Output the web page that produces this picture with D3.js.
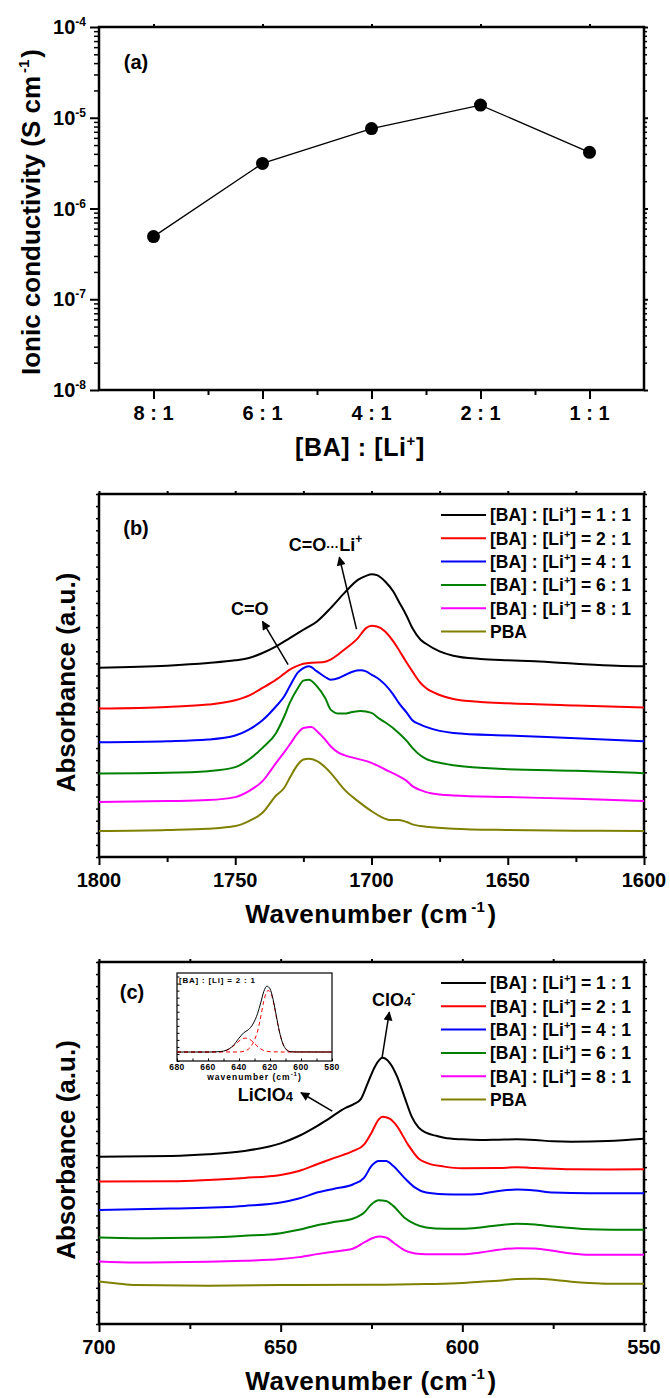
<!DOCTYPE html>
<html>
<head>
<meta charset="utf-8">
<script src="https://cdn.jsdelivr.net/npm/d3@7"></script>
<style>
  body { margin: 0; background: #fff; }
  svg { display: block; font-family: "Liberation Sans", Arial, sans-serif; font-weight: bold; }
</style>
</head>
<body>
<svg id="chart" width="670" height="1398"></svg>
<script>
// ---- data ----

// (a) ionic conductivity vs composition
const ratios = ['8 : 1', '6 : 1', '4 : 1', '2 : 1', '1 : 1'];
const conductivity = [4.9e-7, 3.14e-6, 7.6e-6, 1.38e-5, 4.16e-6];
const decades = [1e-8, 1e-7, 1e-6, 1e-5, 1e-4];
const decadeExp = ['-8', '-7', '-6', '-5', '-4'];

// legend entries, shared by (b) and (c)
const seriesNames = ['1 : 1', '2 : 1', '4 : 1', '6 : 1', '8 : 1', 'PBA'];
const seriesColors = ['#000000', '#ff0000', '#0000ff', '#008000', '#ff00ff', '#808000'];

// wavenumber ticks
const coTicks = [1800, 1750, 1700, 1650, 1600];
const coMinor = [1775, 1725, 1675, 1625];
const clTicks = [700, 650, 600, 550];
const clMinor = [675, 625, 575];

// (b) C=O region, [wavenumber, absorbance a.u.]
const coBA1 = [[1800,.606],[1775,.612],[1760,.620],[1750,.628],[1745,.635],[1740,.650],[1735,.670],[1730,.695],[1725,.720],[1720,.745],[1715,.785],[1710,.830],[1705,.870],[1702,.882],[1700,.887],[1698,.884],[1695,.865],[1692,.835],[1690,.805],[1687,.760],[1685,.725],[1682,.690],[1680,.678],[1675,.655],[1670,.642],[1660,.632],[1650,.628],[1640,.625],[1625,.618],[1610,.612],[1600,.610]];
const coBA2 = [[1800,.483],[1775,.488],[1760,.495],[1750,.508],[1745,.522],[1740,.545],[1735,.570],[1732,.588],[1730,.600],[1727,.612],[1725,.618],[1722,.621],[1718,.622],[1715,.630],[1712,.647],[1710,.660],[1705,.695],[1702,.725],[1700,.732],[1698,.730],[1695,.715],[1692,.685],[1690,.660],[1687,.620],[1685,.595],[1682,.560],[1680,.545],[1675,.524],[1670,.512],[1660,.503],[1650,.499],[1625,.492],[1600,.486]];
const coBA4 = [[1800,.382],[1775,.385],[1760,.390],[1750,.402],[1745,.420],[1740,.448],[1735,.490],[1732,.520],[1730,.550],[1727,.592],[1725,.605],[1723,.610],[1720,.595],[1717,.578],[1715,.570],[1712,.575],[1710,.583],[1707,.594],[1704,.598],[1702,.595],[1700,.585],[1697,.570],[1695,.555],[1692,.525],[1690,.500],[1687,.470],[1685,.448],[1682,.435],[1680,.428],[1675,.416],[1670,.410],[1650,.402],[1625,.394],[1600,.385]];
const coBA6 = [[1800,.288],[1775,.290],[1760,.295],[1750,.307],[1745,.330],[1740,.365],[1735,.410],[1732,.460],[1730,.500],[1727,.545],[1725,.567],[1723,.570],[1720,.550],[1717,.515],[1715,.480],[1712,.468],[1710,.468],[1707,.473],[1704,.476],[1700,.470],[1697,.452],[1695,.442],[1690,.410],[1687,.385],[1685,.365],[1682,.342],[1680,.332],[1675,.320],[1670,.313],[1650,.301],[1625,.296],[1600,.289]];
const coBA8 = [[1800,.202],[1775,.205],[1760,.208],[1750,.217],[1745,.235],[1740,.265],[1735,.320],[1732,.352],[1730,.375],[1727,.410],[1725,.425],[1722,.428],[1720,.415],[1717,.390],[1715,.370],[1712,.350],[1710,.343],[1705,.332],[1700,.320],[1695,.300],[1690,.280],[1687,.265],[1685,.250],[1682,.238],[1680,.232],[1675,.225],[1670,.222],[1650,.217],[1625,.212],[1600,.205]];
const coPBA = [[1800,.115],[1775,.118],[1760,.122],[1750,.130],[1745,.145],[1740,.170],[1735,.222],[1732,.245],[1730,.275],[1727,.315],[1725,.330],[1723,.332],[1720,.325],[1717,.307],[1715,.290],[1712,.260],[1710,.240],[1705,.205],[1700,.175],[1697,.160],[1693,.148],[1690,.148],[1687,.142],[1685,.135],[1682,.130],[1680,.128],[1670,.122],[1650,.118],[1625,.116],[1600,.115]];

// (c) ClO4- region, [wavenumber, absorbance a.u.]
const clBA1 = [[700,.518],[680,.520],[670,.525],[660,.535],[650,.558],[645,.580],[640,.610],[637,.630],[635,.645],[632,.665],[630,.675],[628,.690],[626,.740],[624,.790],[622,.815],[620,.800],[618,.760],[616,.700],[614,.640],[612,.605],[610,.590],[607,.580],[605,.575],[600,.570],[595,.568],[590,.569],[585,.570],[580,.568],[575,.564],[570,.563],[560,.565],[550,.572]];
const clBA2 = [[700,.443],[680,.444],[670,.448],[660,.454],[650,.463],[645,.475],[640,.495],[635,.515],[630,.535],[627,.555],[625,.590],[623,.630],[622,.638],[620,.632],[618,.610],[615,.555],[612,.512],[610,.500],[605,.488],[600,.483],[590,.484],[585,.486],[580,.484],[570,.480],[560,.479],[550,.480]];
const clBA4 = [[700,.358],[680,.362],[660,.370],[650,.380],[645,.392],[640,.410],[635,.422],[630,.435],[627,.455],[625,.490],[623,.505],[621,.505],[619,.490],[616,.455],[613,.425],[610,.410],[605,.405],[600,.404],[595,.406],[590,.415],[585,.419],[580,.416],[575,.410],[565,.408],[550,.408]];
const clBA6 = [[700,.275],[690,.273],[670,.275],[660,.280],[650,.288],[645,.298],[640,.312],[635,.322],[630,.332],[627,.350],[625,.375],[623,.387],[621,.385],[619,.370],[616,.335],[613,.315],[610,.305],[605,.301],[600,.301],[595,.305],[590,.312],[585,.316],[580,.314],[575,.308],[565,.300],[550,.298]];
const clBA8 = [[700,.203],[690,.200],[670,.202],[660,.205],[650,.210],[645,.216],[640,.225],[635,.233],[630,.242],[627,.260],[625,.272],[623,.278],[621,.275],[619,.260],[616,.237],[613,.227],[610,.225],[600,.225],[595,.230],[590,.238],[585,.243],[580,.242],[575,.235],[570,.227],[565,.223],[550,.223]];
const clPBA = [[700,.143],[695,.137],[690,.132],[670,.130],[650,.132],[625,.133],[610,.135],[600,.138],[595,.142],[590,.145],[585,.150],[580,.151],[575,.148],[570,.142],[565,.138],[560,.136],[550,.136]];

// (c) inset: [BA]:[Li] = 2:1 band and its two fitted components
const insetSum = [[680,10.2],[660,10.2],[652,10.7],[648,12.4],[644,17],[640,26],[637,32],[634,35.5],[631,42],[628,54],[626,66],[624,79],[622,85],[620,82],[618,70],[616,52],[614,34],[612,21],[610,14],[608,11],[605,10.3],[580,10.2]];
const insetFitA = [[680,10.2],[655,10.3],[650,11],[646,14],[642,19.5],[639,24],[636,26],[633,24.5],[630,20],[627,15],[624,12],[620,10.6],[610,10.2],[580,10.2]];
const insetFitB = [[680,10.2],[640,10.3],[636,11.5],[633,15],[630,24],[628,34],[626,50],[624,68],[622,79],[621,80],[619,75],[617,60],[615,42],[613,27],[611,17],[609,12.5],[606,10.6],[600,10.2],[580,10.2]];
const insetTicks = [680, 660, 640, 620, 600, 580];

// ---- layout ----
const LEFT = 99, RIGHT = 644;
const PANEL_A = { top: 27, bottom: 390 };
const PANEL_B = { top: 494, bottom: 857 };
const PANEL_C = { top: 962, bottom: 1324 };

const svg = d3.select('#chart');

svg.append('defs').append('marker')
    .attr('id', 'arrow')
    .attr('viewBox', '0 0 10 10')
    .attr('refX', 9).attr('refY', 5)
    .attr('markerWidth', 11).attr('markerHeight', 9)
    .attr('markerUnits', 'userSpaceOnUse')
    .attr('orient', 'auto')
  .append('path')
    .attr('d', 'M0,0L10,5L0,10z')
    .attr('fill', '#000');

// text with superscripts: parts are strings or {t, size, rise}
function rich(sel, parts) {
  let prev = 0;
  parts.forEach(p => {
    const part = typeof p === 'string' ? { t: p, rise: 0 } : p;
    const ts = sel.append('tspan').text(part.t);
    const rise = part.rise || 0;
    if (rise !== prev) ts.attr('dy', prev - rise);
    if (part.size) ts.attr('font-size', part.size);
    if (part.dx) ts.attr('dx', part.dx);
    prev = rise;
  });
  return sel;
}

function frame(p) {
  svg.append('rect')
      .attr('x', LEFT).attr('y', p.top)
      .attr('width', RIGHT - LEFT).attr('height', p.bottom - p.top)
      .attr('fill', 'none').attr('stroke', '#000').attr('stroke-width', 2.5);
}

function plainAxis(g) {
  g.select('.domain').remove();
  g.selectAll('.tick line').attr('stroke', '#000').attr('stroke-width', 2);
}

// ===================== (a) =====================
const xA = d3.scalePoint().domain(ratios).range([LEFT, RIGHT]).padding(0.5);
const xAlin = d3.scaleLinear().domain([0, 5]).range([LEFT, RIGHT]);
const yA = d3.scaleLog().domain([1e-8, 1e-4]).range([PANEL_A.bottom, PANEL_A.top]);
const minorLog = yA.ticks().filter(v => !decades.some(d => Math.abs(v / d - 1) < 1e-6));

frame(PANEL_A);

svg.append('g').attr('transform', `translate(0,${PANEL_A.bottom})`)
    .call(d3.axisBottom(xA).tickSize(9).tickFormat(''))
    .call(plainAxis);
svg.append('g').attr('transform', `translate(0,${PANEL_A.bottom})`)
    .call(d3.axisBottom(xAlin).tickValues([1, 2, 3, 4]).tickSize(5).tickFormat(''))
    .call(plainAxis);
svg.append('g').attr('transform', `translate(0,${PANEL_A.top})`)
    .call(d3.axisTop(xA).tickSize(3).tickFormat(''))
    .call(plainAxis);

[[d3.axisLeft, LEFT], [d3.axisRight, RIGHT]].forEach(([ax, x0]) => {
  const side = x0 === LEFT;
  svg.append('g').attr('transform', `translate(${x0},0)`)
      .call(ax(yA).tickValues(decades).tickSize(side ? 9 : 4).tickFormat(''))
      .call(plainAxis);
  svg.append('g').attr('transform', `translate(${x0},0)`)
      .call(ax(yA).tickValues(minorLog).tickSize(side ? 5 : 3).tickFormat(''))
      .call(plainAxis)
      .selectAll('.tick line').attr('stroke-width', 1.5);
});

// decade labels
decades.forEach((d, i) => {
  const t = svg.append('text')
      .attr('x', 86).attr('y', yA(d)).attr('dy', '0.36em')
      .attr('text-anchor', 'end').attr('font-size', 20);
  rich(t, ['10', { t: decadeExp[i], size: 12, rise: 8 }]);
});

// category labels
ratios.forEach(r => {
  svg.append('text')
      .attr('x', xA(r)).attr('y', PANEL_A.bottom + 23).attr('dy', '0.36em')
      .attr('text-anchor', 'middle').attr('font-size', 20)
      .text(r);
});

svg.append('path')
    .datum(conductivity)
    .attr('fill', 'none').attr('stroke', '#000').attr('stroke-width', 1.3)
    .attr('d', d3.line().x((d, i) => xA(ratios[i])).y(d => yA(d)));

svg.selectAll('.dotA').data(conductivity).enter()
  .append('circle')
    .attr('class', 'dotA')
    .attr('cx', (d, i) => xA(ratios[i]))
    .attr('cy', d => yA(d))
    .attr('r', 6.5)
    .attr('fill', '#000');

svg.append('text').attr('x', 136).attr('y', 62).attr('dy', '0.36em')
    .attr('text-anchor', 'middle').attr('font-size', 20).text('(a)');

rich(svg.append('text')
    .attr('transform', 'translate(31,212) rotate(-90)')
    .attr('text-anchor', 'middle').attr('dy', '0.36em').attr('font-size', 26),
    ['Ionic conductivity (S cm', { t: '-1', size: 15, rise: 11, dx: 3 }, { t: ')', rise: 0, dx: 2 }]);

rich(svg.append('text')
    .attr('x', 360).attr('y', 447).attr('dy', '0.36em')
    .attr('text-anchor', 'middle').attr('font-size', 25).attr('letter-spacing', 0.6),
    ['[BA] : [Li', { t: '+', size: 15, rise: 10 }, ']']);

// ============ spectra panels (b) and (c) ============
function spectraPanel(p, domain, yDomain, series, major, minor, ticksEvery) {
  const x = d3.scaleLinear().domain(domain).range([LEFT, RIGHT]);
  const y = d3.scaleLinear().domain(yDomain).range([p.bottom, p.top]);

  frame(p);

  svg.append('g').attr('transform', `translate(0,${p.bottom})`)
      .call(d3.axisBottom(x).tickValues(major).tickSize(8).tickFormat(''))
      .call(plainAxis);
  svg.append('g').attr('transform', `translate(0,${p.bottom})`)
      .call(d3.axisBottom(x).tickValues(minor).tickSize(5).tickFormat(''))
      .call(plainAxis);
  svg.append('g').attr('transform', `translate(0,${p.top})`)
      .call(d3.axisTop(x).tickValues(major.concat(minor)).tickSize(3).tickFormat(''))
      .call(plainAxis);

  major.forEach(v => {
    svg.append('text')
        .attr('x', x(v)).attr('y', p.bottom + 23).attr('dy', '0.36em')
        .attr('text-anchor', 'middle').attr('font-size', 20)
        .text(v);
  });

  // unlabelled absorbance ticks
  const yt = d3.range(ticksEvery + 1).map(i => yDomain[0] + i * (yDomain[1] - yDomain[0]) / ticksEvery);
  [[d3.axisLeft, LEFT], [d3.axisRight, RIGHT]].forEach(([ax, x0]) => {
    svg.append('g').attr('transform', `translate(${x0},0)`)
        .call(ax(y).tickValues(yt).tickSize(3).tickFormat(''))
        .call(plainAxis)
        .selectAll('.tick line').attr('stroke-width', 1.5);
  });

  const line = d3.line().curve(d3.curveMonotoneX)
      .x(d => x(d[0])).y(d => y(d[1]));
  svg.append('g').selectAll('path').data(series).enter()
    .append('path')
      .attr('fill', 'none')
      .attr('stroke', (d, i) => seriesColors[i])
      .attr('stroke-width', 2)
      .attr('d', line);

  // legend
  const lg = svg.append('g');
  seriesNames.forEach((name, i) => {
    const yy = p.top + 21 + i * 23.3;
    lg.append('line')
        .attr('x1', 441).attr('x2', 486).attr('y1', yy).attr('y2', yy)
        .attr('stroke', seriesColors[i]).attr('stroke-width', 2);
    const t = lg.append('text').attr('x', 490).attr('y', yy).attr('dy', '0.36em')
        .attr('font-size', 17.5);
    if (name === 'PBA') t.text(name);
    else rich(t, ['[BA] : [Li', { t: '+', size: 11, rise: 7 }, '] = ' + name]);
  });

  rich(svg.append('text')
      .attr('x', 371).attr('y', p.bottom + 57).attr('dy', '0.36em')
      .attr('text-anchor', 'middle').attr('font-size', 26).attr('letter-spacing', 0.5),
      ['Wavenumber (cm', { t: '-1', size: 15, rise: 11, dx: 3 }, { t: ')', rise: 0, dx: 2 }]);

  svg.append('text')
      .attr('transform', `translate(66,${(p.top + p.bottom) / 2 + 7}) rotate(-90)`)
      .attr('text-anchor', 'middle').attr('dy', '0.36em').attr('font-size', 26)
      .text('Absorbance (a.u.)');

  return { x, y };
}

function arrow(sc, from, to) {
  svg.append('line')
      .attr('x1', sc.x(from[0])).attr('y1', sc.y(from[1]))
      .attr('x2', sc.x(to[0])).attr('y2', sc.y(to[1]))
      .attr('stroke', '#000').attr('stroke-width', 1.5)
      .attr('marker-end', 'url(#arrow)');
}

// (b)
const scB = spectraPanel(PANEL_B, [1800, 1600], [0.037, 1.128],
    [coBA1, coBA2, coBA4, coBA6, coBA8, coPBA], coTicks, coMinor, 30);

svg.append('text').attr('x', 136).attr('y', 528).attr('dy', '0.36em')
    .attr('text-anchor', 'middle').attr('font-size', 20).text('(b)');

svg.append('text').attr('x', scB.x(1744.7)).attr('y', scB.y(0.785)).attr('dy', '0.36em')
    .attr('text-anchor', 'middle').attr('font-size', 18).text('C=O');
arrow(scB, [1730.6, 0.615], [1740, 0.745]);

rich(svg.append('text').attr('x', scB.x(1716.9)).attr('y', scB.y(0.975)).attr('dy', '0.36em')
    .attr('text-anchor', 'middle').attr('font-size', 18),
    ['C=O', { t: '\u00b7\u00b7\u00b7', size: 13, rise: 0 }, 'Li', { t: '+', size: 12, rise: 8 }]);
arrow(scB, [1705.5, 0.722], [1711.8, 0.938]);

// (c)
const scC = spectraPanel(PANEL_C, [700, 550], [0.015, 1.103],
    [clBA1, clBA2, clBA4, clBA6, clBA8, clPBA], clTicks, clMinor, 30);

svg.append('text').attr('x', 132).attr('y', 992).attr('dy', '0.36em')
    .attr('text-anchor', 'middle').attr('font-size', 20).text('(c)');

rich(svg.append('text').attr('x', scC.x(618.9)).attr('y', scC.y(0.99)).attr('dy', '0.36em')
    .attr('text-anchor', 'middle').attr('font-size', 18),
    ['ClO', { t: '4', size: 13 }, { t: '-', size: 12, rise: 8 }]);
arrow(scC, [622.1, 0.815], [620.1, 0.952]);

rich(svg.append('text').attr('x', scC.x(654.2)).attr('y', scC.y(0.705)).attr('dy', '0.36em')
    .attr('text-anchor', 'middle').attr('font-size', 18),
    ['LiClO', { t: '4', size: 13 }]);
arrow(scC, [635.8, 0.655], [644.4, 0.71]);

// inset in (c)
const INSET = { left: 177, right: 332, top: 973, bottom: 1061 };
const xI = d3.scaleLinear().domain([680, 580]).range([INSET.left, INSET.right]);
const yI = d3.scaleLinear().domain([0, 100]).range([INSET.bottom, INSET.top]);

svg.append('rect')
    .attr('x', INSET.left).attr('y', INSET.top)
    .attr('width', INSET.right - INSET.left).attr('height', INSET.bottom - INSET.top)
    .attr('fill', '#fff').attr('stroke', '#000').attr('stroke-width', 1.2);

svg.append('g').attr('transform', `translate(0,${INSET.bottom})`)
    .call(d3.axisTop(xI).tickValues(d3.range(680, 579, -10)).tickSize(2.5).tickFormat(''))
    .call(g => g.select('.domain').remove())
    .call(g => g.selectAll('.tick line').attr('stroke', '#000'));
svg.append('g').attr('transform', `translate(${INSET.left},0)`)
    .call(d3.axisRight(yI).tickValues(d3.range(0, 101, 8)).tickSize(2.5).tickFormat(''))
    .call(g => g.select('.domain').remove())
    .call(g => g.selectAll('.tick line').attr('stroke', '#000'));

insetTicks.forEach(v => {
  svg.append('text')
      .attr('x', xI(v)).attr('y', INSET.bottom + 6).attr('dy', '0.36em')
      .attr('text-anchor', 'middle').attr('font-size', 8.5).attr('letter-spacing', 0.5)
      .text(v);
});
rich(svg.append('text')
    .attr('x', (INSET.left + INSET.right) / 2).attr('y', INSET.bottom + 16).attr('dy', '0.36em')
    .attr('text-anchor', 'middle').attr('font-size', 8.5).attr('letter-spacing', 1),
    ['wavenumber (cm', { t: '-1', size: 6, rise: 4 }, { t: ')', rise: 0 }]);
svg.append('text')
    .attr('x', INSET.left + 2).attr('y', INSET.top + 7).attr('dy', '0.36em')
    .attr('font-size', 8).attr('letter-spacing', 0.8)
    .text('[BA] : [Li] = 2 : 1');

const lineI = d3.line().curve(d3.curveMonotoneX).x(d => xI(d[0])).y(d => yI(d[1]));
[insetFitA, insetFitB].forEach(s => {
  svg.append('path').datum(s)
      .attr('fill', 'none').attr('stroke', '#ff0000').attr('stroke-width', 1)
      .attr('stroke-dasharray', '4,3')
      .attr('d', lineI);
});
svg.append('path').datum(insetSum)
    .attr('fill', 'none').attr('stroke', '#000').attr('stroke-width', 1)
    .attr('d', lineI);
</script>
</body>
</html>
